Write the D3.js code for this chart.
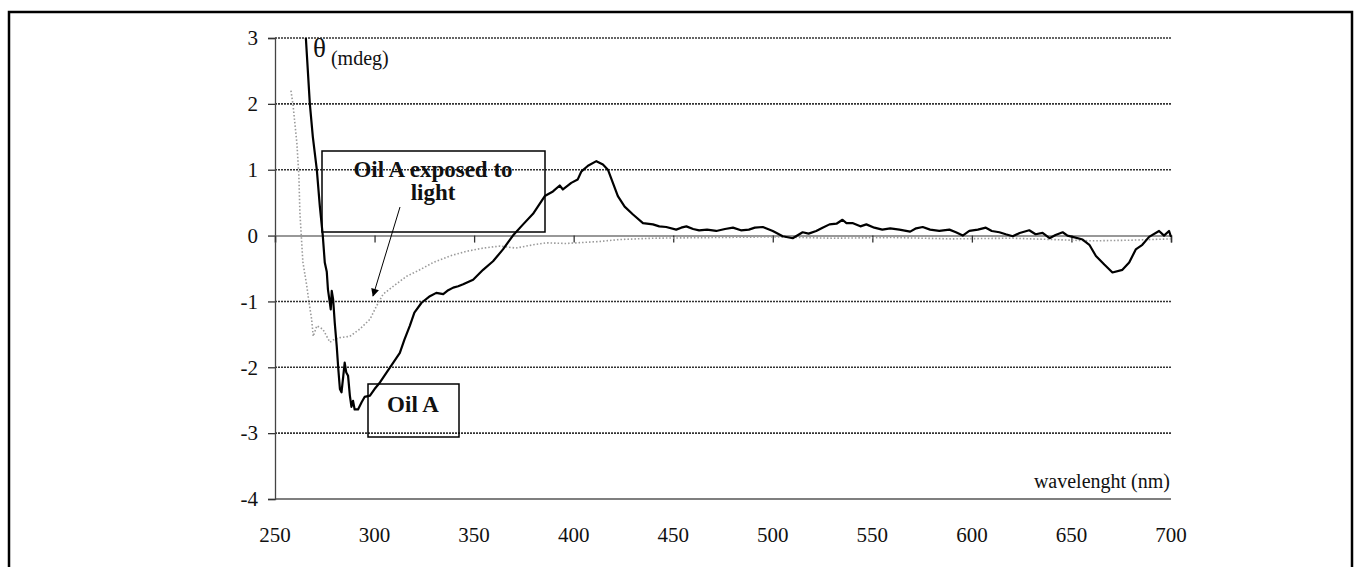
<!DOCTYPE html>
<html>
<head>
<meta charset="utf-8">
<script src="https://cdn.jsdelivr.net/npm/d3@7"></script>
<style>
  body { margin: 0; background: #fff; }
  text { font-family: "Liberation Serif", "Times New Roman", serif; fill: #111; }
  .ticklabel { font-size: 21px; }
  .boxlabel { font-size: 23px; font-weight: bold; }
</style>
</head>
<body>
<div id="chart"></div>
<script>
// tick values
var xTicks = [250, 300, 350, 400, 450, 500, 550, 600, 650, 700];
var yTicks = [-4, -3, -2, -1, 0, 1, 2, 3];

// Oil A  [wavelength nm, theta mdeg]
var oilA = [
  [265.5,3.0],[267.5,2.0],[269,1.5],[271,1.0],[272.5,0.45],[274,0],[275,-0.41],[276,-0.55],
  [276.6,-0.82],[278,-1.12],[278.5,-0.84],[279.2,-0.97],[280,-1.32],[281,-1.68],[281.8,-2.03],
  [282.6,-2.33],[283.4,-2.38],[284.3,-2.13],[285,-1.93],[285.8,-2.08],[286.7,-2.13],[287.6,-2.43],
  [288.4,-2.6],[289.2,-2.51],[290,-2.64],[291.7,-2.64],[293.5,-2.53],[295,-2.45],[297.7,-2.43],
  [300,-2.33],[302.7,-2.23],[306,-2.08],[309.4,-1.93],[312.7,-1.78],[315,-1.58],[317.7,-1.37],
  [320,-1.17],[323.6,-1.02],[327.8,-0.92],[331,-0.87],[334.5,-0.89],[337,-0.83],[339.5,-0.79],
  [342,-0.77],[344.5,-0.74],[349.5,-0.67],[354.5,-0.52],[359.5,-0.39],[364.5,-0.21],[369.5,0.0],
  [374.6,0.17],[379.6,0.33],[385.5,0.6],[389.6,0.67],[393,0.76],[394.6,0.70],[398.8,0.80],
  [402,0.85],[403.8,0.97],[407.2,1.06],[411.4,1.13],[414.7,1.08],[417.2,1.0],[419.7,0.80],
  [422.2,0.60],[425.6,0.44],[429.8,0.32],[434.8,0.19],[439.8,0.17],[443,0.14],[446.5,0.13],
  [451.5,0.09],[454,0.12],[456.6,0.14],[460,0.10],[463,0.08],[467,0.09],[471.6,0.07],[476,0.10],
  [480,0.12],[484,0.08],[488,0.09],[491,0.12],[495,0.13],[500,0.07],[505,-0.01],[510,-0.04],
  [515,0.05],[518,0.03],[521.8,0.07],[525,0.12],[528.5,0.17],[532,0.18],[535,0.24],[537,0.19],
  [540,0.19],[544,0.14],[547,0.17],[551,0.12],[555,0.09],[559,0.11],[563.6,0.09],[569,0.06],
  [572,0.11],[575.3,0.13],[579,0.09],[583.6,0.07],[588.7,0.09],[592,0.05],[595.4,0.0],[598.7,0.07],
  [603,0.09],[607,0.12],[610,0.07],[613.8,0.05],[617,0.02],[620.5,-0.01],[624,0.04],[628.8,0.08],
  [632,0.02],[635.5,0.04],[639,-0.04],[642,0.01],[645.6,0.05],[648,0.0],[650.6,-0.02],[655.6,-0.06],
  [659,-0.14],[662.3,-0.31],[666.5,-0.44],[670.6,-0.56],[675.6,-0.52],[679,-0.41],[682.3,-0.21],
  [685.6,-0.14],[689,-0.02],[694,0.07],[696.5,0.0],[699,0.07],[700,-0.02]
];

// Oil A exposed to light
var oilLight = [
  [258,2.2],[259,2.0],[261,1.4],[262,0.9],[262.5,0.35],[263.4,-0.1],[264,-0.4],[266,-0.77],
  [267,-1.0],[268.4,-1.27],[269.2,-1.53],[271,-1.37],[274,-1.42],[277.6,-1.62],[279.5,-1.58],
  [282.6,-1.55],[287.6,-1.53],[292.6,-1.42],[297.7,-1.27],[301,-1.07],[304.3,-0.89],[309.4,-0.77],
  [316,-0.62],[322.7,-0.52],[329.4,-0.41],[337.8,-0.31],[346,-0.24],[354.5,-0.19],[363,-0.16],
  [371,-0.19],[379.6,-0.14],[386.3,-0.11],[396,-0.12],[413,-0.09],[423,-0.06],[440,-0.04],
  [470,-0.03],[500,-0.02],[530,-0.04],[560,-0.03],[590,-0.05],[620,-0.04],[640,-0.06],
  [660,-0.08],[680,-0.07],[700,-0.05]
];

var width = 1360, height = 567;
var plot = {left: 275, right: 1171, top: 38, bottom: 499};

var svg = d3.select("#chart")
  .append("svg")
  .attr("width", width)
  .attr("height", height);

// outer frame
svg.append("rect")
  .attr("x", 9).attr("y", 12)
  .attr("width", 1343).attr("height", 600)
  .attr("fill", "none")
  .attr("stroke", "#000")
  .attr("stroke-width", 2.5);

var x = d3.scaleLinear().domain([250, 700]).range([plot.left, plot.right]);
var y = d3.scaleLinear().domain([-4, 3]).range([plot.bottom, plot.top]);

// gridlines
svg.append("g")
  .selectAll("line")
  .data(yTicks.filter(function(d) { return d != 0 && d != -4; }))
  .enter()
  .append("line")
  .attr("x1", x(250)).attr("x2", x(700))
  .attr("y1", function(d) { return y(d); })
  .attr("y2", function(d) { return y(d); })
  .attr("stroke", "#333")
  .attr("stroke-width", 1.6)
  .attr("stroke-dasharray", "2,1");

// bottom line at -4
svg.append("line")
  .attr("x1", x(250)).attr("x2", x(700))
  .attr("y1", y(-4)).attr("y2", y(-4))
  .attr("stroke", "#555").attr("stroke-width", 1.5);

// y axis
svg.append("g")
  .attr("transform", "translate(" + x(250) + ",0)")
  .call(d3.axisLeft(y).tickValues(yTicks).tickSize(7).tickPadding(10)
    .tickFormat(function(d) { return String(d); }))
  .call(function(g) {
    g.attr("font-family", null).attr("font-size", null);
    g.select(".domain").attr("stroke", "#444").attr("stroke-width", 1.3);
    g.selectAll(".tick line").attr("stroke", "#333").attr("stroke-width", 1.3);
    g.selectAll(".tick text").attr("class", "ticklabel").attr("fill", "#111");
  });

// x axis crosses at 0, labels sit at the bottom
svg.append("g")
  .attr("transform", "translate(0," + y(0) + ")")
  .call(d3.axisBottom(x).tickValues(xTicks).tickSize(7).tickFormat(""))
  .call(function(g) {
    g.select(".domain").attr("stroke", "#777").attr("stroke-width", 1.6);
    g.selectAll(".tick line").attr("stroke", "#333").attr("stroke-width", 1.3);
  });

svg.append("g")
  .selectAll("text")
  .data(xTicks)
  .enter()
  .append("text")
  .attr("class", "ticklabel")
  .attr("x", function(d) { return x(d); })
  .attr("y", 542)
  .attr("text-anchor", "middle")
  .text(function(d) { return d; });

// series
var line = d3.line()
  .x(function(d) { return x(d[0]); })
  .y(function(d) { return y(d[1]); });

svg.append("path")
  .datum(oilLight)
  .attr("d", line)
  .attr("fill", "none")
  .attr("stroke", "#9a9a9a")
  .attr("stroke-width", 1.6)
  .attr("stroke-dasharray", "1.5,2");

svg.append("path")
  .datum(oilA)
  .attr("d", line)
  .attr("fill", "none")
  .attr("stroke", "#000")
  .attr("stroke-width", 2.2)
  .attr("stroke-linejoin", "round");

// axis titles
var th = svg.append("text").attr("x", 313).attr("y", 57);
th.append("tspan").style("font-size", "27px").text("θ");
th.append("tspan").attr("dx", 5).attr("dy", 8).style("font-size", "20px").text("(mdeg)");

svg.append("text")
  .attr("x", 1170).attr("y", 488)
  .attr("text-anchor", "end")
  .style("font-size", "20px")
  .text("wavelenght (nm)");

// annotation boxes
svg.append("rect")
  .attr("x", 322).attr("y", 151).attr("width", 223).attr("height", 81)
  .attr("fill", "none").attr("stroke", "#000").attr("stroke-width", 1.5);
svg.append("text").attr("class", "boxlabel")
  .attr("x", 433).attr("y", 177).attr("text-anchor", "middle").text("Oil A exposed to");
svg.append("text").attr("class", "boxlabel")
  .attr("x", 433).attr("y", 200).attr("text-anchor", "middle").text("light");

svg.append("rect")
  .attr("x", 368).attr("y", 384).attr("width", 91).attr("height", 53)
  .attr("fill", "none").attr("stroke", "#000").attr("stroke-width", 1.5);
svg.append("text").attr("class", "boxlabel")
  .attr("x", 413).attr("y", 412).attr("text-anchor", "middle").text("Oil A");

// arrow
svg.append("defs").append("marker")
  .attr("id", "arrow")
  .attr("viewBox", "0 0 10 10")
  .attr("refX", 9).attr("refY", 5)
  .attr("markerWidth", 10).attr("markerHeight", 8)
  .attr("markerUnits", "userSpaceOnUse")
  .attr("orient", "auto")
  .append("path")
  .attr("d", "M0,0 L10,5 L0,10 z")
  .attr("fill", "#000");

svg.append("line")
  .attr("x1", 400).attr("y1", 207)
  .attr("x2", 373).attr("y2", 296)
  .attr("stroke", "#000").attr("stroke-width", 1)
  .attr("marker-end", "url(#arrow)");
</script>
</body>
</html>
